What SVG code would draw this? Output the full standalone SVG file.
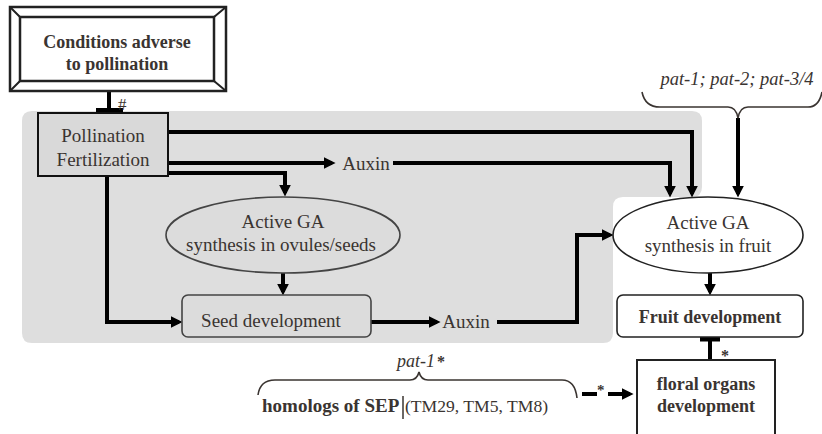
<svg xmlns="http://www.w3.org/2000/svg" width="822" height="434" viewBox="0 0 822 434" font-family="'Liberation Serif', 'DejaVu Serif', serif">
<defs>
<marker id="ah" markerUnits="userSpaceOnUse" markerWidth="12" markerHeight="12" refX="7" refY="5" orient="auto" viewBox="0 0 10 10">
<path d="M0,0 L10,5 L0,10 z" fill="#000"/>
</marker>
</defs>
<style>
text{font-family:"Liberation Serif","DejaVu Serif",serif;fill:#3a3431;}
.c{text-anchor:middle;}
.b{font-weight:bold;}
.it{font-style:italic;}
.f17{font-size:17px;}
.f18{font-size:18px;}
.f19{font-size:19px;}
.ln{fill:none;stroke:#000;stroke-width:4;}
.arr{fill:none;stroke:#000;stroke-width:4;marker-end:url(#ah);}
.brace{fill:none;stroke:#3a3431;stroke-width:1.6;}
</style>
<rect width="822" height="434" fill="#fff"/>
<path id="grey-region" d="M32,111 L692,111 Q702,111 702,121 L702,187 Q702,197 692,197 L623,197 Q613,197 613,207 L613,333 Q613,343 603,343 L32,343 Q22,343 22,333 L22,121 Q22,111 32,111 Z" fill="#dedede"/>

<g id="connectors">
<path class="ln" d="M109,91 L109,110"/>
<path d="M96,110 L123,110" stroke="#000" stroke-width="4"/>
<text x="118" y="110" class="f17">#</text>
<path class="arr" d="M168,132 L692,132 L692,194"/>
<path class="arr" d="M168,163 L332,163"/>
<path class="arr" d="M393,163 L670,163 L670,194"/>
<path class="arr" d="M168,173 L285,173 L285,193"/>
<path class="arr" d="M107,176 L107,322 L179,322"/>
<path class="arr" d="M283,273 L283,292"/>
<path class="arr" d="M371,322 L437,322"/>
<path class="arr" d="M497,322 L577,322 L577,235 L610,235"/>
<path class="arr" d="M738,118 L738,194"/>
<path class="arr" d="M710,273 L710,292"/>
<path class="ln" d="M710,360 L710,339"/>
<path d="M700,339 L720,339" stroke="#000" stroke-width="5"/>
<text x="721" y="361" class="b" style="font-size:16px">*</text>
<path class="ln" d="M582,394 L597,394"/>
<text x="597" y="395" class="b" style="font-size:15px">*</text>
<path class="arr" d="M608,394 L630,394"/>
</g>

<g id="node-conditions">
<rect x="10" y="7" width="216" height="84" fill="#fff" stroke="#222" stroke-width="2.5"/>
<rect x="20" y="17" width="194" height="64" fill="none" stroke="#222" stroke-width="2.5"/>
<path d="M10,7 L20,17 M226,7 L214,17 M10,91 L20,81 M226,91 L214,81" stroke="#222" stroke-width="2"/>
<text x="117" y="48" class="c b f18">Conditions adverse</text>
<text x="117" y="70" class="c b f18">to pollination</text>
</g>

<g id="node-pollination">
<rect x="38" y="113" width="130" height="63" fill="#d9d9d9" stroke="#111" stroke-width="2"/>
<text x="103" y="142" class="c f19">Pollination</text>
<text x="103" y="166" class="c f19">Fertilization</text>
</g>

<g id="node-auxin1">
<text x="366" y="170" class="c f19">Auxin</text>
</g>

<g id="node-ovules">
<ellipse cx="283" cy="235" rx="117" ry="38" fill="#dcdcdc" stroke="#444" stroke-width="1.6"/>
<text x="283" y="228" class="c f19">Active GA</text>
<text x="281" y="251" class="c f19">synthesis in ovules/seeds</text>
</g>

<g id="node-seed">
<rect x="182" y="295" width="189" height="42" rx="6" fill="#dcdcdc" stroke="#444" stroke-width="1.6"/>
<text x="271" y="327" class="c f19">Seed development</text>
</g>

<g id="node-auxin2">
<text x="466" y="328" class="c f19">Auxin</text>
</g>

<g id="node-pat-top">
<text x="737" y="85" class="c it" style="font-size:18.5px">pat-1; pat-2; pat-3/4</text>
<path class="brace" d="M642,92 Q645,107 660,107 L728,107 Q736,107 738,118 Q740,107 748,107 L808,107 Q819,107 822,92"/>
</g>

<g id="node-fruit-ga">
<ellipse cx="708" cy="235" rx="95" ry="38" fill="#fff" stroke="#222" stroke-width="1.6"/>
<text x="708" y="229" class="c f19">Active GA</text>
<text x="708" y="252" class="c f19">synthesis in fruit</text>
</g>

<g id="node-fruit-dev">
<rect x="617" y="295" width="186" height="42" rx="6" fill="#fff" stroke="#222" stroke-width="1.6"/>
<text x="710" y="323" class="c b f18">Fruit development</text>
</g>

<g id="node-floral">
<rect x="637" y="360" width="138" height="80" fill="#fff" stroke="#222" stroke-width="2"/>
<text x="706" y="390" class="c b f18">floral organs</text>
<text x="706" y="412" class="c b f18">development</text>
</g>

<g id="node-sep">
<text x="397" y="367" class="it f18">pat-1<tspan class="b" style="font-style:normal;font-size:16px" dx="2">*</tspan></text>
<path class="brace" d="M258,395 Q260,380 275,380 L410,380 Q417,380 419,372 Q421,380 428,380 L562,380 Q575,380 577,398"/>
<text x="262" y="412" class="b f19">homologs of SEP</text>
<path d="M403,396 L403,419" stroke="#3a3431" stroke-width="1.5"/>
<text x="405" y="412" style="font-size:17.6px">(TM29, TM5, TM8)</text>
</g>
</svg>
